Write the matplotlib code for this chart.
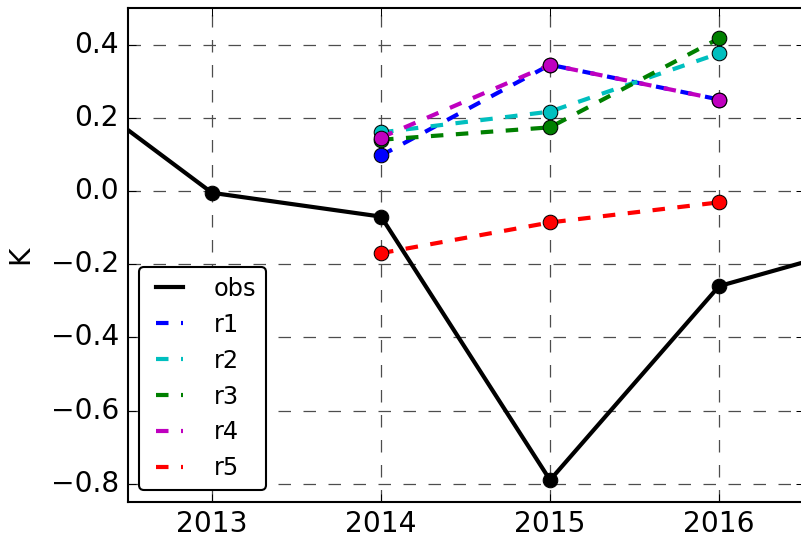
import matplotlib
matplotlib.use("Agg")
import matplotlib.pyplot as plt

# Annual anomaly (K): observations and five reforecast runs
obs_years = [2012, 2013, 2014, 2015, 2016, 2017]
obs_vals = [0.34, -0.005, -0.07, -0.79, -0.26, -0.13]

run_years = [2014, 2015, 2016]
r1 = [0.097, 0.345, 0.25]
r2 = [0.16, 0.217, 0.376]
r3 = [0.14, 0.174, 0.417]
r4 = [0.146, 0.345, 0.25]
r5 = [-0.17, -0.086, -0.031]

run_names = ["r1", "r2", "r3", "r4", "r5"]
run_colors = ["b", "c", "g", "m", "r"]
year_ticks = [2013, 2014, 2015, 2016]
y_ticks = [0.4, 0.2, 0.0, -0.2, -0.4, -0.6, -0.8]

plt.style.use("classic")
plt.rcParams["font.family"] = ["DejaVu Sans"]

fig = plt.figure(figsize=(801 / 150, 539 / 150), dpi=150, facecolor="white")
ax = fig.add_axes([0.1592, 0.0686, 0.8440, 0.9165])

ax.plot(obs_years, obs_vals, color="k", lw=2, label="obs", zorder=3)
ax.plot(obs_years, obs_vals, "o", color="k", ms=7, zorder=3)

for name, vals, col in zip(run_names, [r1, r2, r3, r4, r5], run_colors):
    ax.plot(run_years, vals, "--", color=col, lw=2, label=name, zorder=3)
    ax.plot(run_years, vals, "o", color=col, mec="k", mew=0.5, ms=7, zorder=3)

ax.set_xlim(2012.5, 2016.5)
ax.set_ylim(-0.85, 0.5)
ax.set_xticks(year_ticks)
ax.set_xticklabels([str(y) for y in year_ticks])
ax.set_yticks(y_ticks)
ax.set_yticklabels(["\u2212%.1f" % abs(v) if v < 0 else "%.1f" % v for v in y_ticks])
ax.tick_params(labelsize=13.5)
ax.set_ylabel("K", fontsize=13.5, labelpad=8)
ax.grid(True, ls="--", color="0.3", lw=0.6)
ax.set_axisbelow(True)

ax.legend(loc="lower left", fancybox=True, fontsize=11.5, handlelength=1.7,
          handletextpad=1.0)

fig.savefig("out.png", dpi=150, facecolor="white")
